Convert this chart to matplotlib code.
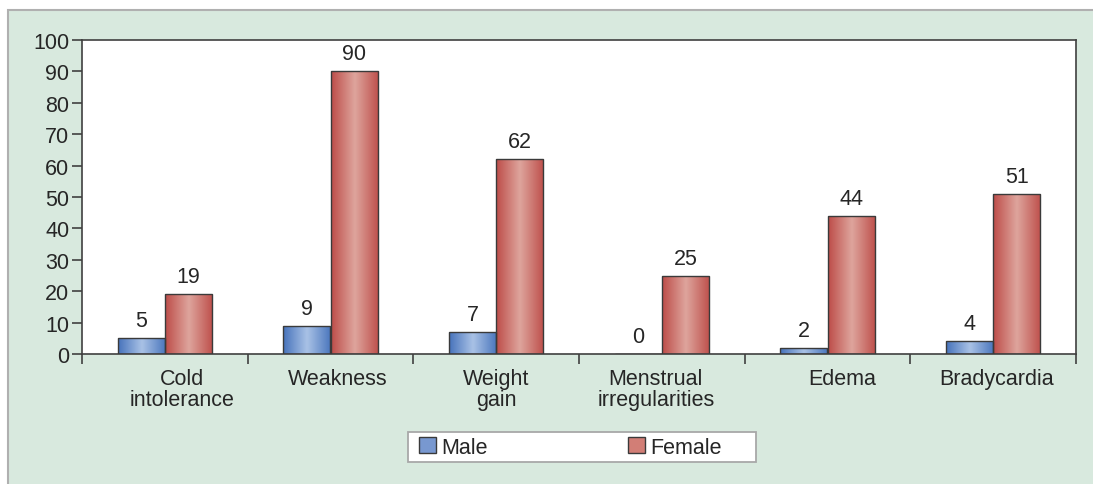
import numpy as np
import matplotlib
matplotlib.use("Agg")
import matplotlib.pyplot as plt
from matplotlib.colors import LinearSegmentedColormap
from matplotlib.patches import Rectangle, Patch
from matplotlib.transforms import ScaledTranslation

plt.rcParams['font.family'] = ['Liberation Sans', 'DejaVu Sans']

categories = ["Cold\nintolerance", "Weakness", "Weight\ngain",
              "Menstrual\nirregularities", "Edema", "Bradycardia"]
male = [5, 9, 7, 0, 2, 4]
female = [19, 90, 62, 25, 44, 51]
series_names = ["Male", "Female"]
y_ticks = [0, 10, 20, 30, 40, 50, 60, 70, 80, 90, 100]
label_shift_px = [17, 7, 0, -6, 15, 3]

W, H = 1093, 485
fig = plt.figure(figsize=(W / 100, H / 100), dpi=100)
fig.patch.set_facecolor("white")

green = "#d8e9de"
fig.patches.append(Rectangle((8 / W, -0.1), 1.2, 1 - 11 / H + 0.1,
                             transform=fig.transFigure, facecolor=green,
                             edgecolor="#b0b0b0", linewidth=1.5, zorder=-10))

ax = fig.add_axes([82 / W, 1 - 355 / H, (1076 - 82) / W, (355 - 41) / H])
ax.set_facecolor("white")
ax.set_zorder(1)

x = np.arange(len(categories))
bw = 0.284
cmap_m = LinearSegmentedColormap.from_list("m", ["#4672bb", "#a9c2e6", "#4a76bd"])
cmap_f = LinearSegmentedColormap.from_list("f", ["#bd4c48", "#dea59d", "#be4f4b"])

bars_m = ax.bar(x - bw / 2, male, bw, facecolor="none", edgecolor="#3a3a3a", linewidth=1.0, zorder=3)
bars_f = ax.bar(x + bw / 2, female, bw, facecolor="none", edgecolor="#3a3a3a", linewidth=1.0, zorder=3)

grad = np.linspace(0, 1, 256).reshape(1, -1)
for bars, cmap in ((bars_m, cmap_m), (bars_f, cmap_f)):
    for p in bars:
        x0, y0 = p.get_x(), p.get_y()
        w, h = p.get_width(), p.get_height()
        if h <= 0:
            continue
        im = ax.imshow(grad, cmap=cmap, aspect="auto", extent=(x0, x0 + w, y0, y0 + h),
                       zorder=2, interpolation="bicubic")
        im.set_clip_path(p)

for bars, vals in ((bars_m, male), (bars_f, female)):
    for p, v in zip(bars, vals):
        ax.annotate(str(v), (p.get_x() + p.get_width() / 2, v), xytext=(0, 5),
                    textcoords="offset points", ha="center", va="bottom",
                    fontsize=15.5, color="#262626")

ax.set_xlim(-0.5, len(categories) - 0.5)
ax.set_ylim(0, 100)
ax.set_yticks(y_ticks)
ax.set_xticks(x)
ax.set_xticklabels(categories, fontsize=15.5, color="#262626", linespacing=1.0)
ax.set_xticks(np.arange(-0.5, len(categories), 1.0), minor=True)
ax.tick_params(axis="x", which="major", length=0, pad=10)
ax.tick_params(axis="x", which="minor", length=7, width=1.2, color="#404040", direction="out")
ax.tick_params(axis="y", length=7, width=1.2, color="#404040", direction="out",
               labelsize=15.5, labelcolor="#262626", pad=2)
for lab, dx in zip(ax.get_xticklabels(), label_shift_px):
    lab.set_transform(lab.get_transform() + ScaledTranslation(dx / 100, 0, fig.dpi_scale_trans))

for s in ax.spines.values():
    s.set_color("#404040")
    s.set_linewidth(1.2)

# legend
fig.patches.append(Rectangle((408 / W, 1 - 463 / H), (756 - 408) / W, 30 / H,
                             transform=fig.transFigure, facecolor="white",
                             edgecolor="#a8a8a8", linewidth=1.3, zorder=1))
handles = [Patch(facecolor="#7898d0", edgecolor="#3a3a3a", label=series_names[0]),
           Patch(facecolor="#d27e76", edgecolor="#3a3a3a", label=series_names[1])]
leg = fig.legend(handles=handles, loc="center left", bbox_to_anchor=(419 / W, 1 - 448 / H),
                 ncol=2, frameon=False, fontsize=15.5, handlelength=0.8, handleheight=0.8,
                 handletextpad=0.25, columnspacing=6.5, borderaxespad=0, borderpad=0)
for t in leg.get_texts():
    t.set_color("#262626")

fig.savefig("out.png", dpi=100)
